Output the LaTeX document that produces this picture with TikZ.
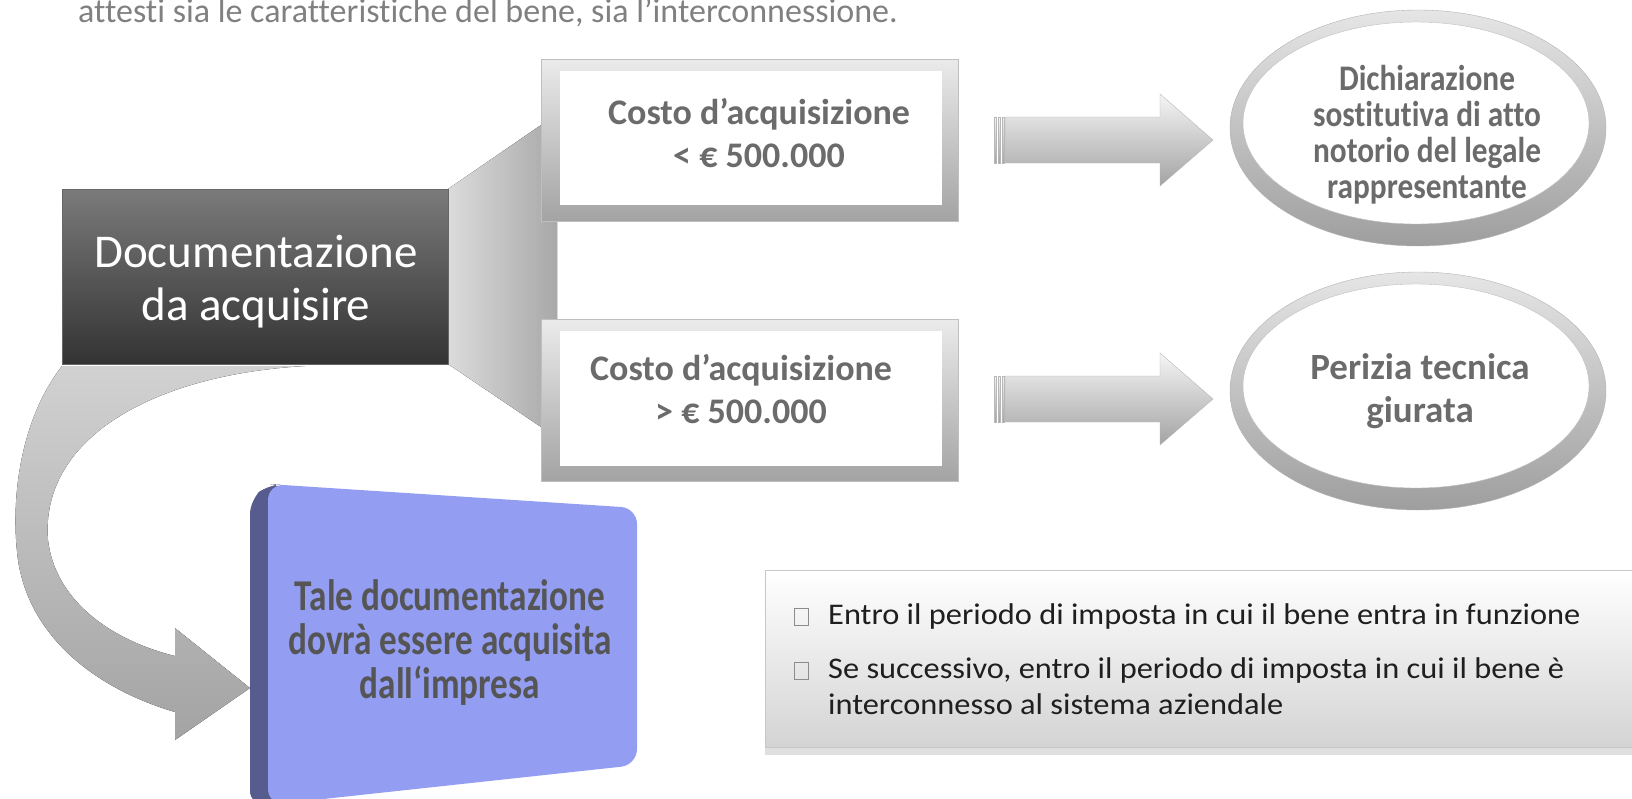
\documentclass[tikz,border=0pt]{standalone}
\usepackage{fontspec}
\setmainfont{Carlito}[Ligatures=NoCommon]
\newfontfamily\strettofont[FakeStretch=0.87,Ligatures=NoCommon]{Carlito}
\newfontfamily\altofont[FakeStretch=0.8,Ligatures=NoCommon]{Carlito}
\newfontfamily\largofont[FakeStretch=1.08,Ligatures=NoCommon]{Carlito}
\usetikzlibrary{positioning,shadows}

\definecolor{grigiotesto}{HTML}{6B6B6B}
\definecolor{grigiotitolo}{HTML}{808080}
\definecolor{facciablu}{HTML}{939DF2}
\definecolor{latoblu}{HTML}{565C8E}
\definecolor{testoblu}{HTML}{555555}

\tikzset{
  scatola/.style={draw=black!60, top color=black!52, bottom color=black!80,
    minimum width=386, minimum height=175, inner sep=0pt},
  cornice/.style={draw=black!25, top color=black!8, bottom color=black!36, minimum width=417,
    minimum height=162, inner sep=0pt},
  costo/.style={text=grigiotesto, align=center, inner sep=0pt, font=\bfseries\fontsize{36}{43}\selectfont},
  freccia/.style={draw=black!28, top color=black!4, bottom color=black!36},
  anello/.style={draw=black!30, top color=black!10, bottom color=black!38},
  esito/.style={text=grigiotesto, align=center, inner sep=0pt, font=\strettofont\bfseries\fontsize{36}{36}\selectfont},
  nota/.style={draw=black!22, top color=white, bottom color=black!17, minimum width=867,
    minimum height=177, inner sep=0pt, anchor=north west,
    drop shadow={shadow xshift=0pt, shadow yshift=-8pt, opacity=.25}},
  voce/.style={anchor=base west, inner sep=0pt, text=black!88, font=\largofont\fontsize{30}{36}\selectfont},
  quadratino/.style={draw=black!45, line width=0.8pt},
}

\begin{document}
\begin{tikzpicture}[x=1pt,y=-1pt]
  \useasboundingbox (0,0) rectangle (1632,798);
  % riga di testo tagliata in alto
  \node[anchor=base west, inner sep=0pt, text=grigiotitolo, font=\fontsize{34}{40}\selectfont] (titolo) at (78,22)
    {attesti sia le caratteristiche del bene, sia l’interconnessione.};
  % raccordo grigio dietro le cornici
  \fill[left color=black!14, right color=black!34] (448,189) -- (541,125) -- (557,125) -- (557,427)
    -- (541,427) -- (448,364) -- cycle;
  % freccia curva verso il riquadro blu
  \fill[top color=black!18, bottom color=black!36] (62,366) .. controls (20,420) and (10,500) .. (18,560)
    .. controls (30,640) and (100,690) .. (175,712) -- (175,740) -- (250,688) -- (175,628) -- (175,656)
    .. controls (110,640) and (55,600) .. (48,540) .. controls (40,440) and (150,375) .. (305,366) -- cycle;
  % scatola scura
  \node[scatola] (doc) at (255,276.5) {};
  \node[text=white, align=center, inner sep=0pt, font=\fontsize{47}{53}\selectfont] (doctesto) at (256,282)
    {Documentazione\\da acquisire};
  % cornici dei costi
  \node[cornice] (cornA) at (749.5,140) {};
  \fill[white] ([xshift=19,yshift=-12]cornA.north west) rectangle ([xshift=-16,yshift=16]cornA.south east);
  \node[cornice] (cornB) at (749.5,400.5) {};
  \fill[white] ([xshift=19,yshift=-12]cornB.north west) rectangle ([xshift=-16,yshift=16]cornB.south east);
  \node[costo] (costoA) at (759,133) {Costo d’acquisizione\\< € 500.000};
  \node[costo] (costoB) at (741,389) {Costo d’acquisizione\\> € 500.000};
  % frecce verso gli esiti
  \foreach \yc in {140,399}{
    \draw[freccia] (1005,\yc-23) -- (1160,\yc-23) -- (1160,\yc-46) -- (1213,\yc) -- (1160,\yc+46)
      -- (1160,\yc+23) -- (1005,\yc+23) -- cycle;
    \foreach \xs in {994,998,1002}
      \draw[freccia] (\xs,\yc-23) rectangle (\xs+2,\yc+23);
  }
  % esiti
  \draw[anello] (1418,128) ellipse [x radius=188, y radius=118];
  \draw[draw=black!25, fill=white] (1416,123) ellipse [x radius=173, y radius=101];
  \node[esito] (dich) at (1427,135) {Dichiarazione\\sostitutiva di atto\\notorio del legale\\rappresentante};
  \draw[anello] (1418,391) ellipse [x radius=188, y radius=119];
  \draw[draw=black!25, fill=white] (1416,386) ellipse [x radius=173, y radius=102];
  \node[esito, font=\bfseries\fontsize{37}{43}\selectfont] (perizia) at (1420,391) {Perizia tecnica\\giurata};
  % riquadro blu
  \fill[latoblu, rounded corners=14] (250,805) -- (250,500) -- (268,484) -- (284,485) -- (284,805) -- cycle;
  \fill[facciablu, rounded corners=16] (268,484) -- (637,508) -- (637,765) -- (268,805) -- cycle;
  \node[text=testoblu, align=center, inner sep=0pt, font=\altofont\bfseries\fontsize{44}{44}\selectfont]
    (tale) at (450,643) {Tale documentazione\\dovrà essere acquisita\\dall‘impresa};
  % tempi di acquisizione
  \node[nota] (nota) at (765,570) {};
  \draw[quadratino] (794,608) rectangle (808,625);
  \node[voce] (voceA) at (828,624) {Entro il periodo di imposta in cui il bene entra in funzione};
  \draw[quadratino] (794,662) rectangle (808,679);
  \node[voce] (voceB) at (828,678) {Se successivo, entro il periodo di imposta in cui il bene è};
  \node[voce] (voceC) at (828,714) {interconnesso al sistema aziendale};
\end{tikzpicture}
\end{document}
